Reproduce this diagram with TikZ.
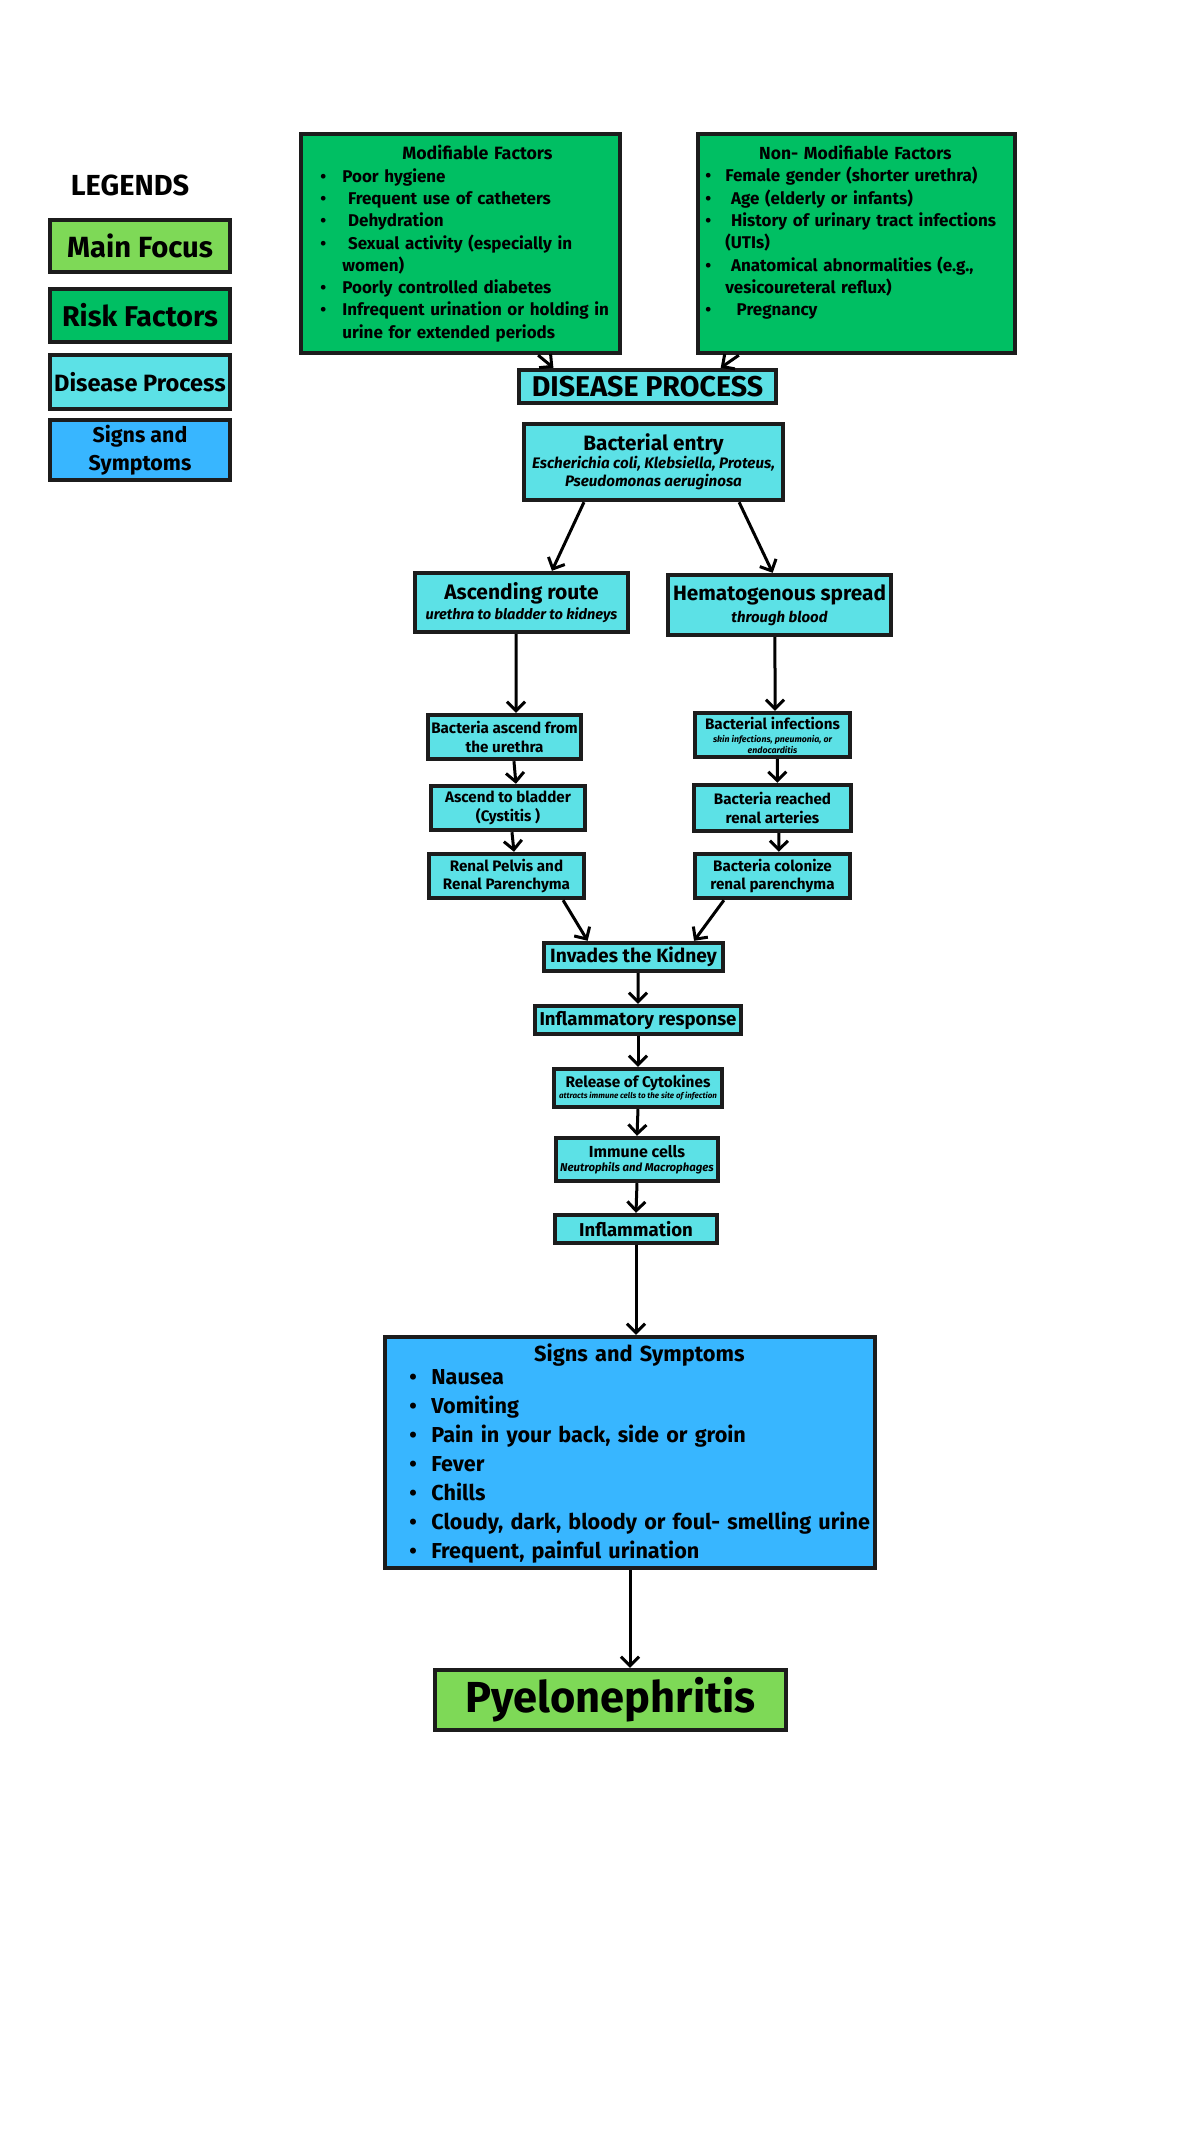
\documentclass[tikz,border=0pt]{standalone}
\usepackage{fontspec}
\setmainfont{Fira Sans}
\usepackage{xcolor}
\usepackage{tikz}
\usetikzlibrary{positioning,arrows.meta,calc}

\definecolor{mainfocus}{HTML}{7ED957}
\definecolor{riskgreen}{HTML}{00BF63}
\definecolor{processcyan}{HTML}{5CE1E6}
\definecolor{signsblue}{HTML}{38B6FF}
\definecolor{boxline}{HTML}{1C1C1C}

\newcommand{\fs}[2]{\fontsize{#1}{#2}\selectfont\lineskiplimit=-20pt}
\newcommand{\subtxt}[1]{\fontsize{#1}{#1}\selectfont\itshape}
\newlength{\bulw}
\newcommand{\bitem}[1]{\par\hangindent=\bulw\hangafter=1\noindent\makebox[\bulw][l]{\textbullet}#1}

\begin{document}
\begin{tikzpicture}[x=0.5pt, y=-0.5pt,
            box/.style={draw=boxline, line width=2.2pt, inner sep=0pt, align=center, text=black, font=\bfseries},
            wh/.style 2 args={minimum width=#1*0.5pt, minimum height=#2*0.5pt},
            focus/.style={box, fill=mainfocus},
            risk/.style={box, fill=riskgreen},
            process/.style={box, fill=processcyan},
            signs/.style={box, fill=signsblue},
            listtext/.style={inner sep=0pt, align=left, text=black, anchor=north west},
            flow/.style={line width=1.5pt, draw=black, -{Straight Barb[length=4.5pt,width=9pt]}}
        ]
        \fill[white] (0,0) rectangle (1200,2133);
        \useasboundingbox (0,0) rectangle (1200,2133);

        % Legend
        \node[text=black, font=\bfseries\fs{14.5}{16}] (legtitle) at (130,185) {LEGENDS};
        \node[focus, wh={180}{52}, font=\bfseries\fs{14.6}{16}] (legmain) at (140,246) {Main Focus};
        \node[risk, wh={180}{53}, font=\bfseries\fs{14.3}{16}] (legrisk) at (140,315.5) {Risk Factors};
        \node[process, wh={180}{54}, font=\bfseries\fs{11.8}{13}] (legproc) at (140,382) {Disease Process};
        \node[signs, wh={180}{60}, font=\bfseries\fs{10.7}{14}] (legsigns) at (140,450) {Signs and\\Symptoms};

        % Risk factors
        \node[risk, wh={319}{219}] (modif) at (460.5,243.5) {};
        \node[listtext, text width=146pt, font=\bfseries\fs{8.5}{11.15}] (modiftext) at (320,145) {\setlength{\bulw}{11pt}%
            \centerline{\hspace{11pt}\fs{8.9}{11.15}Modifiable Factors}%
            \bitem{Poor hygiene}%
            \bitem{\ Frequent use of catheters}%
            \bitem{\ Dehydration}%
            \bitem{\ Sexual activity (especially in\newline women)}%
            \bitem{Poorly controlled diabetes}%
            \bitem{Infrequent urination or holding in\newline urine for extended periods}\par};
        \node[risk, wh={317}{219}] (nonmod) at (856.5,243.5) {};
        \node[listtext, text width=150pt, font=\bfseries\fs{8.5}{11.15}] (nonmodtext) at (705,145) {\setlength{\bulw}{10pt}%
            \centerline{\fs{8.75}{11.15}Non- Modifiable Factors}%
            \bitem{Female gender (shorter urethra)}%
            \bitem{\ Age (elderly or infants)}%
            \bitem{\ History of urinary tract infections\newline (UTIs)}%
            \bitem{\ Anatomical abnormalities (e.g.,\newline vesicoureteral reflux)}%
            \bitem{\ \ Pregnancy}\par};

        % Disease process
        \node[process, wh={257}{33}, font=\bfseries\fs{14.3}{15}] (dproc) at (647.5,386.5) {DISEASE PROCESS};
        \node[process, wh={259}{76}, font=\bfseries\fs{10.4}{9}] (bentry) at (653.5,462) {Bacterial entry\\\subtxt{7.6}Escherichia coli, Klebsiella, Proteus,\\\subtxt{7.6}Pseudomonas aeruginosa};

        % Two routes
        \node[process, wh={213}{59}, font=\bfseries\fs{10.5}{10}] (ascend) at (521.5,602.5) {Ascending route\\\subtxt{7.3}urethra to bladder to kidneys};
        \node[process, wh={223}{60}, font=\bfseries\fs{10.4}{11}] (hemato) at (779.5,605) {Hematogenous spread\\\subtxt{7.5}through blood};

        % Ascending route steps
        \node[process, wh={153}{44}, font=\bfseries\fs{7.6}{9.3}] (bascend) at (504.5,737) {Bacteria ascend from\\the urethra};
        \node[process, wh={154}{44}, font=\bfseries\fs{7.6}{9.3}] (bladder) at (508,808) {Ascend to bladder\\(Cystitis )};
        \node[process, wh={155}{44}, font=\bfseries\fs{7.6}{9}] (pelvis) at (506.5,876) {Renal Pelvis and\\Renal Parenchyma};

        % Hematogenous steps
        \node[process, wh={155}{44}, font=\bfseries\fs{7.6}{5.5}] (binfect) at (772.5,735) {Bacterial infections\\[1pt]\subtxt{4.4}skin infections, pneumonia, or\\\subtxt{4.4}endocarditis};
        \node[process, wh={157}{46}, font=\bfseries\fs{7.6}{9.3}] (breach) at (772.5,808) {Bacteria reached\\renal arteries};
        \node[process, wh={155}{44}, font=\bfseries\fs{7.6}{9.3}] (bcolon) at (772.5,876) {Bacteria colonize\\renal parenchyma};

        % Kidney response
        \node[process, wh={179}{28}, font=\bfseries\fs{9.6}{10}] (invades) at (633.5,957) {Invades the Kidney};
        \node[process, wh={206}{28}, font=\bfseries\fs{9.3}{10}] (inflresp) at (638,1020) {Inflammatory response};
        \node[process, wh={168}{38}, font=\bfseries\fs{7.7}{5.5}] (cytok) at (638,1088) {Release of Cytokines\\\subtxt{4}attracts immune cells to the site of infection};
        \node[process, wh={162}{43}, font=\bfseries\fs{8}{7}] (immune) at (637,1159.5) {Immune cells\\\subtxt{5.7}Neutrophils and Macrophages};
        \node[process, wh={162}{28}, font=\bfseries\fs{9.3}{10}] (inflam) at (636,1229) {Inflammation};

        % Signs and symptoms
        \node[signs, wh={490}{231}] (signs) at (630,1452.5) {};
        \node[listtext, text width=240pt, font=\bfseries\fs{10.8}{14.5}] (signstext) at (409,1343) {\setlength{\bulw}{11pt}%
            \centerline{\hspace{-10pt}\fs{10.9}{14.5}Signs and Symptoms}\vspace{-3pt}%
            \bitem{Nausea}%
            \bitem{Vomiting}%
            \bitem{Pain in your back, side or groin}%
            \bitem{Fever}%
            \bitem{Chills}%
            \bitem{Cloudy, dark, bloody or foul- smelling urine}%
            \bitem{Frequent, painful urination}\par};

        % Main focus
        \node[focus, wh={351}{60}, font=\bfseries\fs{21.7}{23}] (pyelo) at (610.5,1700) {Pyelonephritis};

        % Connections
        \draw[flow] ($(modif.south west)!0.74!(modif.south east)$) -- ($(dproc.north west)!0.14!(dproc.north east)$);
        \draw[flow] ($(nonmod.south west)!0.134!(nonmod.south east)$) -- ($(dproc.north west)!0.78!(dproc.north east)$);
        \draw[flow] ($(bentry.south west)!0.236!(bentry.south east)$) -- ($(ascend.north west)!0.64!(ascend.north east)$);
        \draw[flow] ($(bentry.south west)!0.825!(bentry.south east)$) -- ($(hemato.north west)!0.47!(hemato.north east)$);
        \draw[flow] ($(ascend.south west)!0.475!(ascend.south east)$) -- ($(bascend.north west)!0.573!(bascend.north east)$);
        \draw[flow] ($(hemato.south west)!0.48!(hemato.south east)$) -- ($(binfect.north west)!0.516!(binfect.north east)$);
        \draw[flow] ($(bascend.south west)!0.56!(bascend.south east)$) -- ($(bladder.north west)!0.55!(bladder.north east)$);
        \draw[flow] ($(bladder.south west)!0.525!(bladder.south east)$) -- ($(pelvis.north west)!0.547!(pelvis.north east)$);
        \draw[flow] ($(binfect.south west)!0.53!(binfect.south east)$) -- ($(breach.north west)!0.53!(breach.north east)$);
        \draw[flow] ($(breach.south west)!0.54!(breach.south east)$) -- ($(bcolon.north west)!0.54!(bcolon.north east)$);
        \draw[flow] ($(pelvis.south west)!0.855!(pelvis.south east)$) -- ($(invades.north west)!0.25!(invades.north east)$);
        \draw[flow] ($(bcolon.south west)!0.195!(bcolon.south east)$) -- ($(invades.north west)!0.83!(invades.north east)$);
        \draw[flow] ($(invades.south west)!0.525!(invades.south east)$) -- (inflresp.north);
        \draw[flow] (inflresp.south) -- (cytok.north);
        \draw[flow] (cytok.south) -- (immune.north);
        \draw[flow] (immune.south) -- (inflam.north);
        \draw[flow] (inflam.south) -- (inflam.south |- signs.north);
        \draw[flow] (signs.south) -- (signs.south |- pyelo.north);

\end{tikzpicture}
\end{document}
